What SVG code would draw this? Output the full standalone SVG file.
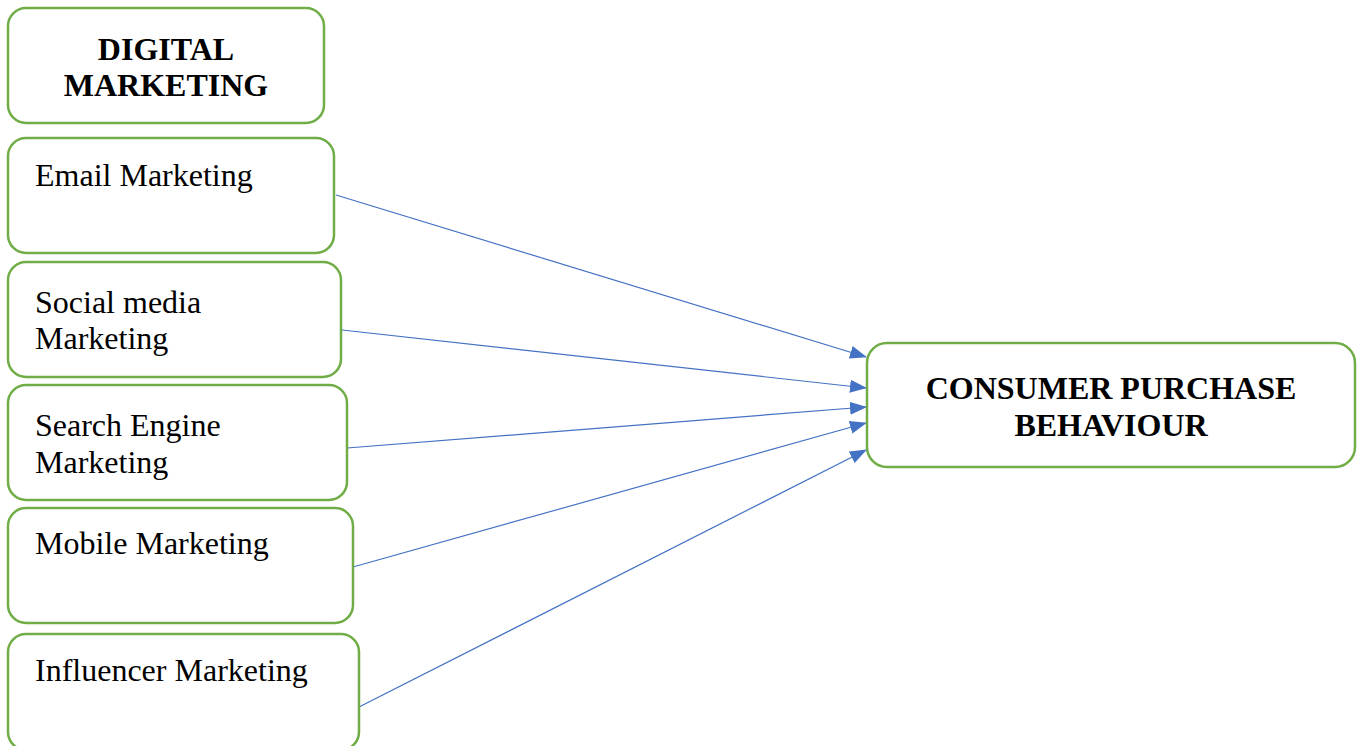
<svg xmlns="http://www.w3.org/2000/svg" width="1360" height="746" viewBox="0 0 1360 746">
<defs>
<style>
.box{fill:#fff;stroke:#70AD47;stroke-width:2.5}
.t{font-family:"Liberation Serif","Times New Roman",serif;font-size:32px;fill:#000}
.b{font-weight:bold;text-anchor:middle}
.c{stroke:#4472C4;stroke-width:1.2;fill:none}
</style>
<marker id="ah" markerWidth="17" markerHeight="13" refX="16" refY="6.5" orient="auto" markerUnits="userSpaceOnUse">
<path d="M0,0 L17,6.5 L0,13 Z" fill="#4472C4"/>
</marker>
</defs>
<rect width="1360" height="746" fill="#fff"/>
<g id="connectors">
<line class="c" x1="336" y1="195" x2="866" y2="357" marker-end="url(#ah)"/>
<line class="c" x1="342" y1="330" x2="866" y2="388" marker-end="url(#ah)"/>
<line class="c" x1="347" y1="448" x2="866" y2="407" marker-end="url(#ah)"/>
<line class="c" x1="353" y1="567" x2="866" y2="423" marker-end="url(#ah)"/>
<line class="c" x1="359" y1="707" x2="866" y2="450" marker-end="url(#ah)"/>
</g>
<g id="digital">
<rect class="box" x="8" y="8" width="316" height="115" rx="18"/>
<text class="t b" x="166" y="60">DIGITAL</text>
<text class="t b" x="166" y="96">MARKETING</text>
</g>
<g id="email">
<rect class="box" x="8" y="138" width="326" height="115" rx="18"/>
<text class="t" x="35" y="186">Email Marketing</text>
</g>
<g id="social">
<rect class="box" x="8" y="262" width="333" height="115" rx="18"/>
<text class="t" x="35" y="313">Social media</text>
<text class="t" x="35" y="349">Marketing</text>
</g>
<g id="search">
<rect class="box" x="8" y="385" width="339" height="115" rx="18"/>
<text class="t" x="35" y="436">Search Engine</text>
<text class="t" x="35" y="473">Marketing</text>
</g>
<g id="mobile">
<rect class="box" x="8" y="508" width="345" height="115" rx="18"/>
<text class="t" x="35" y="554">Mobile Marketing</text>
</g>
<g id="influencer">
<rect class="box" x="8" y="634" width="351" height="116" rx="18"/>
<text class="t" x="35" y="681">Influencer Marketing</text>
</g>
<g id="consumer">
<rect class="box" x="867" y="343" width="488" height="124" rx="20"/>
<text class="t b" x="1111" y="399">CONSUMER PURCHASE</text>
<text class="t b" x="1111" y="436">BEHAVIOUR</text>
</g>
</svg>
